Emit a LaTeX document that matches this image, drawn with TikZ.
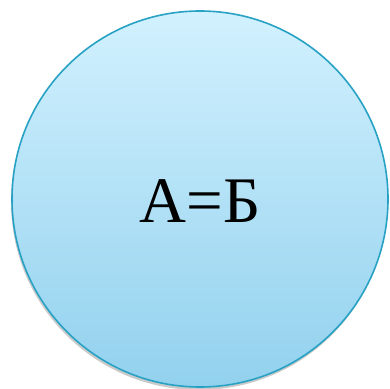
\documentclass[tikz,border=0pt]{standalone}
\usepackage{fontspec}
\setmainfont{Liberation Serif}
\usetikzlibrary{shadows}
\definecolor{rand}{RGB}{40,162,196}
\definecolor{hell}{RGB}{210,241,254}
\definecolor{dunkel}{RGB}{146,209,238}
\definecolor{txt}{RGB}{0,0,0}
\tikzset{
  every picture/.style={line width=1.6pt},
  % Kreis mit Verlauf
  kreis/.style={circle, draw=rand, top color=hell, bottom color=dunkel,
    minimum size=376pt, inner sep=0pt,
    drop shadow={shadow xshift=-1pt, shadow yshift=-3pt, opacity=0.35, fill=black!60}},
  gleich/.style={font=\fontsize{65pt}{65pt}\selectfont, text=txt},
}
\begin{document}
\begin{tikzpicture}[x=1pt, y=1pt]
  \useasboundingbox (0,0) rectangle (390,388);
  \node[kreis] (k) at (200,189) {};
  \node[gleich] (t) at (200,187) {А=Б};
\end{tikzpicture}
\end{document}
